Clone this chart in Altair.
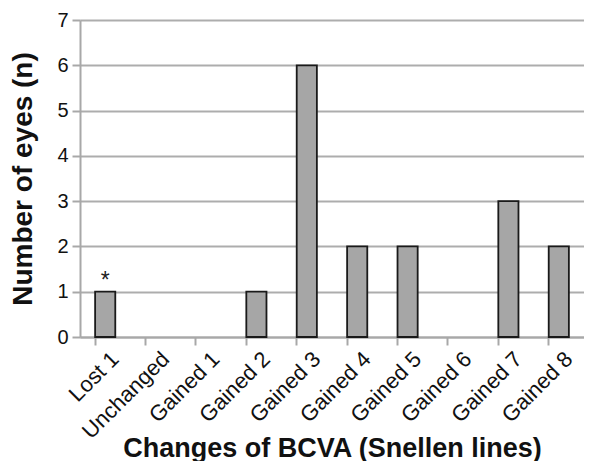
import altair as alt
import pandas as pd

categories = ["Lost 1", "Unchanged", "Gained 1", "Gained 2", "Gained 3",
              "Gained 4", "Gained 5", "Gained 6", "Gained 7", "Gained 8"]
counts = [1, 0, 0, 1, 6, 2, 2, 0, 3, 2]
notes = ["*", "", "", "", "", "", "", "", "", ""]

df = pd.DataFrame({"cat": categories, "n": counts, "note": notes})
FONT = "Arial, Liberation Sans, sans-serif"

x = alt.X("cat:N", sort=categories, title="Changes of BCVA (Snellen lines)",
          scale=alt.Scale(paddingInner=0.6, paddingOuter=0.3),
          axis=alt.Axis(labelAngle=-45, labelAlign="right", labelBaseline="top",
                        labelFontSize=22, labelColor="#111", labelFont=FONT,
                        titleFontSize=27, titleFont=FONT, titleFontWeight="bold",
                        titleColor="#111", titleY=119, titleBaseline="alphabetic", labelPadding=3,
                        domainColor="#a8a8a8", domainWidth=2, tickColor="#a8a8a8", tickWidth=2,
                        tickSize=8, bandPosition=0, grid=False, labelOffset=3))
y = alt.Y("n:Q", title="Number of eyes (n)",
          scale=alt.Scale(domain=[0, 7], nice=False),
          axis=alt.Axis(values=list(range(8)), format="d", labelFontSize=20,
                        labelColor="#111", labelFont=FONT, labelPadding=4,
                        titleFontSize=28, titleFont=FONT, titleFontWeight="bold",
                        titleColor="#111", titleX=-49, titleBaseline="alphabetic",
                        domainColor="#a8a8a8", domainWidth=2, tickColor="#a8a8a8", tickWidth=2,
                        tickSize=8, gridColor="#adadad", gridWidth=2))

bars = alt.Chart(df).transform_filter("datum.n > 0").mark_bar(
    color="#a6a6a6", stroke="#1a1a1a", strokeWidth=1.8).encode(x=x, y=y)
text = alt.Chart(df).mark_text(baseline="alphabetic", dy=-4, fontSize=23, color="#222", font=FONT).encode(
    x=alt.X("cat:N", sort=categories), y="n:Q", text="note:N")

chart = (bars + text).properties(
    width=504, height=317, autosize=alt.AutoSizeParams(type="none"),
    padding={"left": 72, "top": 12, "right": 0, "bottom": 124}
).configure_view(stroke=None)

chart.save("out.html", embed_options={"renderer": "svg", "actions": False})
